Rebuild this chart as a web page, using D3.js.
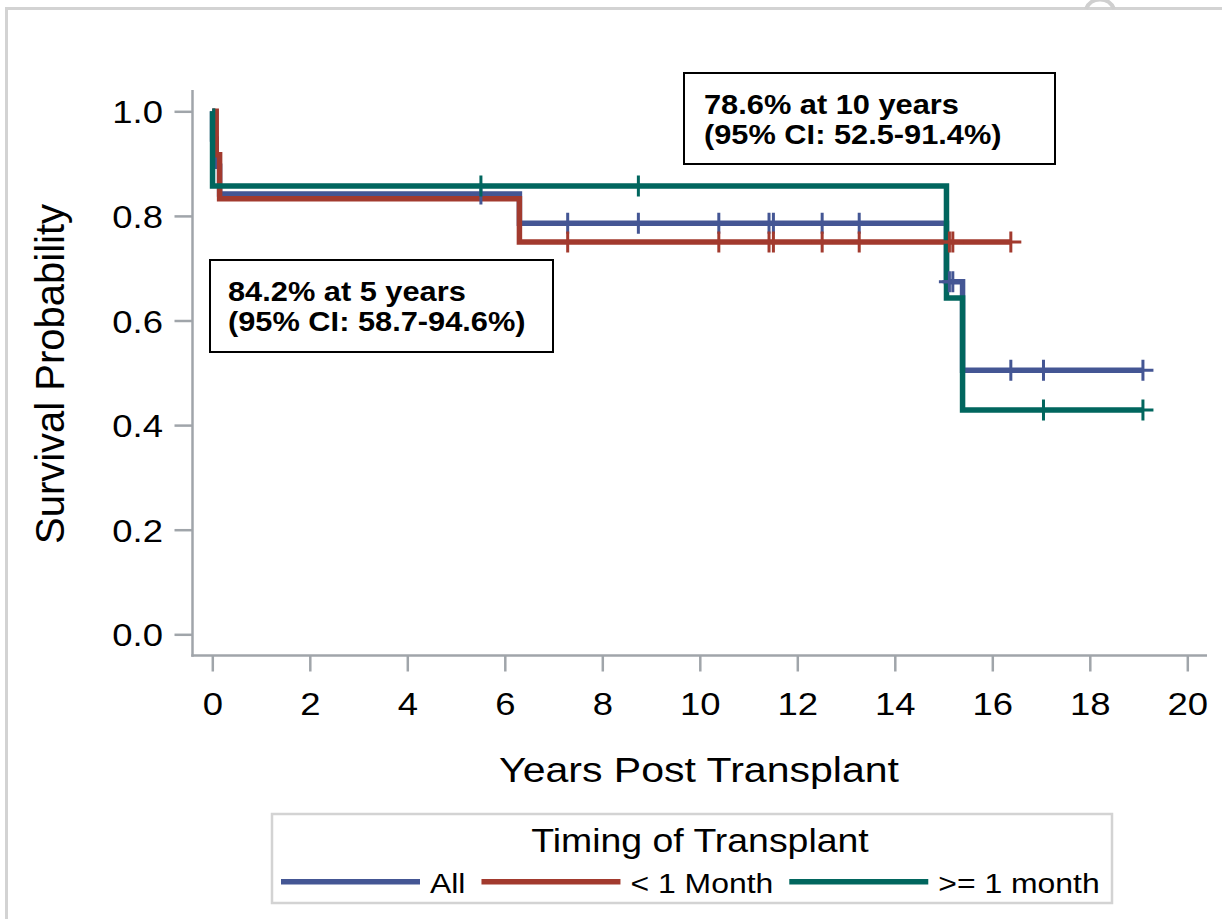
<!DOCTYPE html>
<html>
<head>
<meta charset="utf-8">
<script src="https://cdn.jsdelivr.net/npm/d3@7"></script>
<style>
  body { margin: 0; background: #fff; }
  svg { display: block; }
  text { font-family: "Liberation Sans", Arial, sans-serif; fill: #000; }
</style>
</head>
<body>
<script>
// Kaplan-Meier steps
const groupNames = ["All", "< 1 Month", ">= 1 month"];
const groupColors = ["#445694", "#a23a2e", "#01665e"];

const allTimes = [0, 0.005, 0.08, 0.15, 6.3, 15.06, 15.39];
const allSurv = [1, 0.947, 0.895, 0.842, 0.786, 0.674, 0.505];
const allCensor = [5.51, 7.29, 8.74, 10.39, 11.42, 11.51, 12.51, 13.27, 15.12, 15.19, 16.38, 17.05, 19.09];

const earlyTimes = [0, 0.08, 0.15, 6.3];
const earlySurv = [1, 0.917, 0.833, 0.75];
const earlyCensor = [7.29, 10.39, 11.42, 11.51, 12.51, 13.27, 15.12, 15.19, 16.38];

const lateTimes = [0, 0.005, 15.06, 15.39];
const lateSurv = [1, 0.857, 0.643, 0.429];
const lateCensor = [5.51, 8.74, 17.05, 19.09];

const xTicks = [0, 2, 4, 6, 8, 10, 12, 14, 16, 18, 20];
const yTicks = [0, 0.2, 0.4, 0.6, 0.8, 1.0];

const note10 = ["78.6% at 10 years", "(95% CI: 52.5-91.4%)"];
const note5 = ["84.2% at 5 years", "(95% CI: 58.7-94.6%)"];

const width = 1222, height = 919;
const SX = 1.14; // text in the picture is a bit wide
const axisColor = "#a0a5aa";

const svg = d3.select("body").append("svg")
    .attr("width", width)
    .attr("height", height);

// outer frame (goes past right/bottom edge)
svg.append("rect")
    .attr("x", 6.5).attr("y", 8.5)
    .attr("width", width + 20).attr("height", height + 20)
    .attr("fill", "none").attr("stroke", "#d3d3d3").attr("stroke-width", 3);
svg.append("path")
    .attr("d", "M1086,9 A15,15 0 0 1 1114,9")
    .attr("fill", "none").attr("stroke", "#cfcfcf").attr("stroke-width", 4);

const x = d3.scaleLinear().domain([0, 20]).range([212.3, 1187.3]);
const y = d3.scaleLinear().domain([0, 1]).range([634.3, 111.3]);

// x axis
const gx = svg.append("g")
    .attr("transform", "translate(0,655.5)")
    .call(d3.axisBottom(x).tickValues(xTicks).tickSize(16).tickSizeOuter(0).tickFormat(d3.format("d")));
gx.select(".domain").remove();
gx.selectAll(".tick line").attr("stroke", axisColor).attr("stroke-width", 2.5);
gx.selectAll(".tick text")
    .attr("y", null).attr("dy", null)
    .attr("font-size", 32)
    .attr("transform", "translate(0,59.5) scale(" + SX + ",1)");

// y axis
const gy = svg.append("g")
    .attr("transform", "translate(192.5,0)")
    .call(d3.axisLeft(y).tickValues(yTicks).tickSize(18).tickSizeOuter(0).tickFormat(d3.format(".1f")));
gy.select(".domain").remove();
gy.selectAll(".tick line").attr("stroke", axisColor).attr("stroke-width", 2.5);
gy.selectAll(".tick text")
    .attr("x", null).attr("dy", null)
    .attr("font-size", 32)
    .attr("text-anchor", "end")
    .attr("transform", "translate(-29.5,11.5) scale(" + SX + ",1)");

svg.append("line")
    .attr("x1", 191.3).attr("x2", 1207).attr("y1", 655.5).attr("y2", 655.5)
    .attr("stroke", axisColor).attr("stroke-width", 2.5);
svg.append("line")
    .attr("x1", 192.5).attr("x2", 192.5).attr("y1", 90).attr("y2", 656.7)
    .attr("stroke", axisColor).attr("stroke-width", 2.5);

// axis titles
svg.append("text")
    .attr("text-anchor", "middle")
    .attr("font-size", 36)
    .attr("transform", "translate(699,782) scale(" + SX + ",1)")
    .text("Years Post Transplant");
svg.append("text")
    .attr("text-anchor", "middle")
    .attr("font-size", 40)
    .attr("transform", "translate(64,374) rotate(-90) scale(1,1.02)")
    .text("Survival Probability");

// curves
const groups = [
    { times: allTimes, surv: allSurv, censor: allCensor },
    { times: earlyTimes, surv: earlySurv, censor: earlyCensor },
    { times: lateTimes, surv: lateSurv, censor: lateCensor }
];

function survAt(g, t) {
    let s = g.surv[0];
    g.times.forEach((tt, i) => { if (tt <= t) s = g.surv[i]; });
    return s;
}

const line = d3.line()
    .x(d => x(d[0]))
    .y(d => y(d[1]))
    .curve(d3.curveStepAfter);

groups.forEach((g, i) => {
    const pts = g.times.map((t, j) => [t, g.surv[j]]);
    const end = Math.max(d3.max(g.censor), d3.max(g.times));
    pts.push([end, g.surv[g.surv.length - 1]]);
    svg.append("path")
        .attr("d", line(pts))
        .attr("fill", "none")
        .attr("stroke", groupColors[i])
        .attr("stroke-width", 5.5)
        .attr("stroke-linejoin", "miter");
});

groups.forEach((g, i) => {
    svg.append("g").selectAll("path")
        .data(g.censor)
        .join("path")
        .attr("d", t => {
            const cx = x(t), cy = y(survAt(g, t)), r = 10.5;
            return `M${cx - r},${cy}H${cx + r}M${cx},${cy - r}V${cy + r}`;
        })
        .attr("stroke", groupColors[i])
        .attr("stroke-width", 3)
        .attr("fill", "none");
});

// annotation boxes
function noteBox(lines, bx, by, bw, bh, tx) {
    svg.append("rect")
        .attr("x", bx).attr("y", by).attr("width", bw).attr("height", bh)
        .attr("fill", "#fff").attr("stroke", "#000").attr("stroke-width", 2);
    lines.forEach((s, i) => {
        svg.append("text")
            .attr("font-size", 27)
            .attr("font-weight", "bold")
            .attr("transform", `translate(${tx},${by + 41 + i * 30}) scale(${SX},1)`)
            .text(s);
    });
}
noteBox(note10, 684, 73, 371, 91, 704);
noteBox(note5, 210, 260, 343, 92, 228);

// legend
svg.append("rect")
    .attr("x", 272).attr("y", 814).attr("width", 840).attr("height", 89)
    .attr("fill", "#fff").attr("stroke", "#d3d3d3").attr("stroke-width", 2.5);
svg.append("text")
    .attr("text-anchor", "middle")
    .attr("font-size", 34)
    .attr("transform", "translate(700,851.7) scale(1.1,1)")
    .text("Timing of Transplant");

let lx = 281;
groupNames.forEach((name, i) => {
    svg.append("line")
        .attr("x1", lx).attr("x2", lx + 139)
        .attr("y1", 881.7).attr("y2", 881.7)
        .attr("stroke", groupColors[i]).attr("stroke-width", 5.5);
    lx += 139 + 10;
    const t = svg.append("text")
        .attr("font-size", 28)
        .attr("transform", `translate(${lx},893) scale(${SX},1)`)
        .text(name);
    lx += t.node().getComputedTextLength() * SX + 16;
});
</script>
</body>
</html>
